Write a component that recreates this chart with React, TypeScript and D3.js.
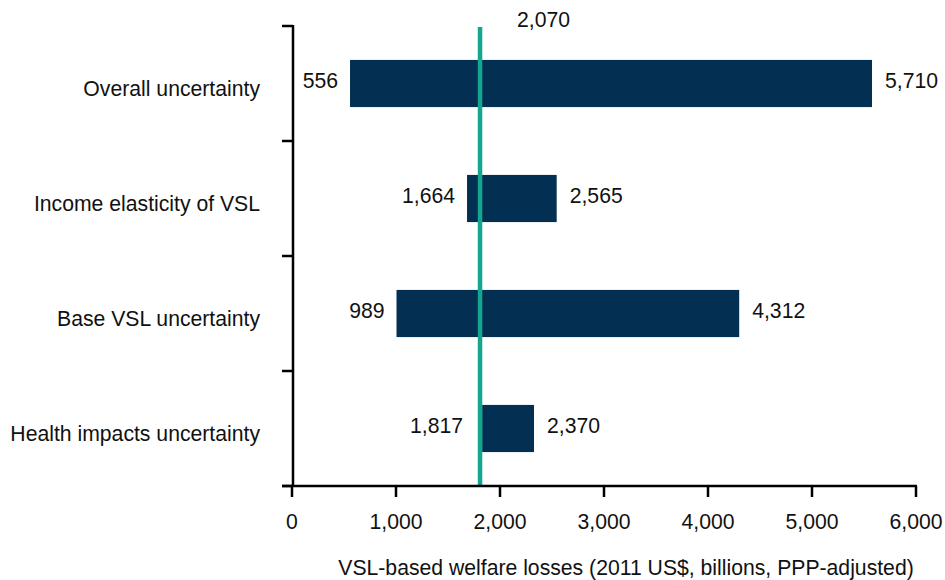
import React from "react";
import * as d3 from "d3";

const categories = [
  "Overall uncertainty",
  "Income elasticity of VSL",
  "Base VSL uncertainty",
  "Health impacts uncertainty",
];
// bar extents as drawn in the picture
const lowValues = [558, 1683, 1005, 1828];
const highValues = [5577, 2545, 4300, 2327];
// printed labels
const lowLabels = ["556", "1,664", "989", "1,817"];
const highLabels = ["5,710", "2,565", "4,312", "2,370"];
const referenceValue = 1808;
const referenceLabel = "2,070";
const xTicks = [0, 1000, 2000, 3000, 4000, 5000, 6000];
const xTitle = "VSL-based welfare losses (2011 US$, billions, PPP-adjusted)";

const W = 945;
const H = 580;
const FONT = "'Liberation Sans', Arial, Helvetica, sans-serif";
const FS = 21.2;
const NAVY = "#022f52";
const TEAL = "#14a68e";

export default function App() {
  const x = d3.scaleLinear().domain([0, 6000]).range([292, 916]);
  const y = d3
    .scaleBand<string>()
    .domain(categories)
    .range([26, 486])
    .paddingInner(0.59)
    .paddingOuter(0.295);
  const step = y.step();
  const top = 26;
  const bottom = 486;
  const boundaries = d3.range(categories.length + 1).map((i) => top + i * step);
  const fmt = d3.format(",");

  return (
    <svg
      width={W}
      height={H}
      style={{ position: "absolute", left: 0, top: 0, background: "#fff" }}
      fontFamily={FONT}
    >
      {/* bars */}
      {categories.map((c, i) => {
        const y0 = y(c)!;
        const cy = y0 + y.bandwidth() / 2;
        return (
          <g key={c}>
            <rect
              x={x(lowValues[i])}
              y={y0}
              width={x(highValues[i]) - x(lowValues[i])}
              height={y.bandwidth()}
              fill={NAVY}
            />
            <text
              x={x(lowValues[i]) - (i === 3 ? 19 : 12)}
              y={cy + 4}
              textAnchor="end"
              fontSize={FS}
              fill="#111"
            >
              {lowLabels[i]}
            </text>
            <text
              x={x(highValues[i]) + 13}
              y={cy + 4}
              textAnchor="start"
              fontSize={FS}
              fill="#111"
            >
              {highLabels[i]}
            </text>
            <text
              x={260}
              y={cy + 12.5}
              textAnchor="end"
              fontSize={FS}
              fill="#111"
            >
              {c}
            </text>
          </g>
        );
      })}

      {/* reference line */}
      <line
        x1={x(referenceValue)}
        x2={x(referenceValue)}
        y1={27}
        y2={bottom}
        stroke={TEAL}
        strokeWidth={4.5}
      />
      <text x={517} y={26.5} fontSize={FS} fill="#111">
        {referenceLabel}
      </text>

      {/* y axis */}
      <line x1={293} x2={293} y1={top - 1} y2={bottom + 1} stroke="#000" strokeWidth={2.5} />
      {boundaries.map((b, i) => (
        <line key={i} x1={282} x2={293} y1={b} y2={b} stroke="#000" strokeWidth={2.5} />
      ))}

      {/* x axis */}
      <line x1={282} x2={x(6000) + 1} y1={bottom} y2={bottom} stroke="#000" strokeWidth={2.5} />
      {xTicks.map((t) => (
        <g key={t}>
          <line x1={x(t)} x2={x(t)} y1={bottom} y2={bottom + 11} stroke="#000" strokeWidth={2.5} />
          <text x={x(t)} y={529} textAnchor="middle" fontSize={FS} fill="#111">
            {fmt(t)}
          </text>
        </g>
      ))}
      <text x={626} y={575} textAnchor="middle" fontSize={FS} fill="#111">
        {xTitle}
      </text>
    </svg>
  );
}
